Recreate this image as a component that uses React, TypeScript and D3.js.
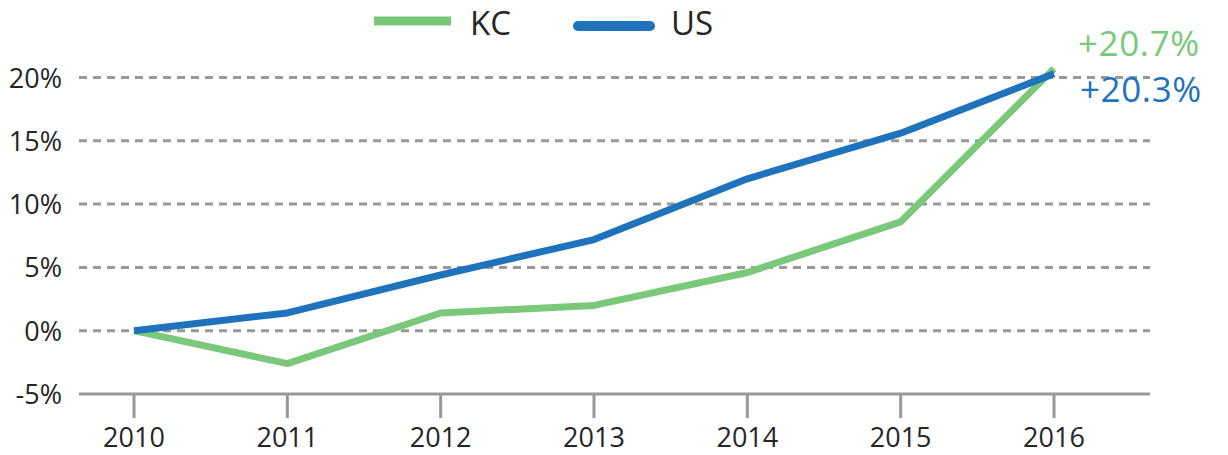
import React, { useEffect, useRef } from 'react';
import * as d3 from 'd3';

const years = [2010, 2011, 2012, 2013, 2014, 2015, 2016];
const kcValues = [0, -2.6, 1.4, 2.0, 4.6, 8.6, 20.7];
const usValues = [0, 1.4, 4.4, 7.2, 12.0, 15.6, 20.3];
const yTicks = [-5, 0, 5, 10, 15, 20];
const seriesNames = ['KC', 'US'];

const GREEN = '#7ac97a';
const BLUE = '#1f73bd';
const GRID = '#999999';
const TEXT = '#262626';
const FONT = '"Open Sans", sans-serif';

export default function App() {
  const svgRef = useRef<SVGSVGElement>(null);
  const width = 1228;
  const height = 455;

  useEffect(() => {
    if (!svgRef.current) return;
    const svg = d3.select(svgRef.current);
    svg.selectAll('*').remove();

    const left = 79;
    const right = 1150;

    const x = d3.scalePoint<number>()
      .domain(years)
      .range([134, 1054]);

    const y = d3.scaleLinear()
      .domain([-5, 20])
      .range([394, 77.5]);

    // dashed grid lines (not at the bottom)
    svg.append('g')
      .selectAll('line')
      .data(yTicks.filter(t => t !== -5))
      .enter()
      .append('line')
      .attr('x1', left)
      .attr('x2', right)
      .attr('y1', d => y(d))
      .attr('y2', d => y(d))
      .attr('stroke', GRID)
      .attr('stroke-width', 3)
      .attr('stroke-dasharray', '8 6');

    // y labels
    svg.append('g')
      .selectAll('text')
      .data(yTicks)
      .enter()
      .append('text')
      .attr('x', 62)
      .attr('y', d => y(d) + 10)
      .attr('text-anchor', 'end')
      .attr('font-family', FONT)
      .attr('font-size', 27)
      .attr('fill', TEXT)
      .text(d => `${d}%`);

    // x axis line
    svg.append('line')
      .attr('x1', left)
      .attr('x2', right)
      .attr('y1', y(-5))
      .attr('y2', y(-5))
      .attr('stroke', GRID)
      .attr('stroke-width', 3);

    const xt = svg.append('g');
    xt.selectAll('line')
      .data(years)
      .enter()
      .append('line')
      .attr('x1', d => x(d) || 0)
      .attr('x2', d => x(d) || 0)
      .attr('y1', y(-5))
      .attr('y2', y(-5) + 24)
      .attr('stroke', GRID)
      .attr('stroke-width', 3);

    xt.selectAll('text')
      .data(years)
      .enter()
      .append('text')
      .attr('x', d => x(d) || 0)
      .attr('y', 447)
      .attr('text-anchor', 'middle')
      .attr('font-family', FONT)
      .attr('font-size', 27)
      .attr('fill', TEXT)
      .text(d => d);

    const line = d3.line<number>()
      .x((_, i) => x(years[i]) || 0)
      .y(d => y(d));

    svg.append('path')
      .datum(kcValues)
      .attr('d', line)
      .attr('fill', 'none')
      .attr('stroke', GREEN)
      .attr('stroke-width', 7)
      .attr('stroke-linejoin', 'round');

    svg.append('path')
      .datum(usValues)
      .attr('d', line)
      .attr('fill', 'none')
      .attr('stroke', BLUE)
      .attr('stroke-width', 7)
      .attr('stroke-linejoin', 'round');

    // end labels
    const last = years.length - 1;
    svg.append('text')
      .attr('x', 1078)
      .attr('y', 56)
      .attr('font-family', FONT)
      .attr('font-size', 35)
      .attr('letter-spacing', 0.6)
      .attr('fill', GREEN)
      .text(`+${kcValues[last]}%`);
    svg.append('text')
      .attr('x', 1080)
      .attr('y', 102)
      .attr('font-family', FONT)
      .attr('font-size', 35)
      .attr('letter-spacing', 0.6)
      .attr('fill', BLUE)
      .text(`+${usValues[last]}%`);

    // legend
    const legend = svg.append('g');
    legend.append('line')
      .attr('x1', 374).attr('x2', 451)
      .attr('y1', 21).attr('y2', 21)
      .attr('stroke', GREEN)
      .attr('stroke-width', 9);
    legend.append('text')
      .attr('x', 470).attr('y', 35)
      .attr('font-family', FONT)
      .attr('font-size', 33)
      .attr('fill', TEXT)
      .text(seriesNames[0]);
    legend.append('line')
      .attr('x1', 578).attr('x2', 650)
      .attr('y1', 26).attr('y2', 26)
      .attr('stroke', BLUE)
      .attr('stroke-width', 10)
      .attr('stroke-linecap', 'round');
    legend.append('text')
      .attr('x', 671).attr('y', 35)
      .attr('font-family', FONT)
      .attr('font-size', 33)
      .attr('fill', TEXT)
      .text(seriesNames[1]);
  }, []);

  return (
    <div style={{ position: 'absolute', left: 0, top: 0 }}>
      <svg ref={svgRef} width={width} height={height} style={{ display: 'block', background: '#fff' }} />
    </div>
  );
}
